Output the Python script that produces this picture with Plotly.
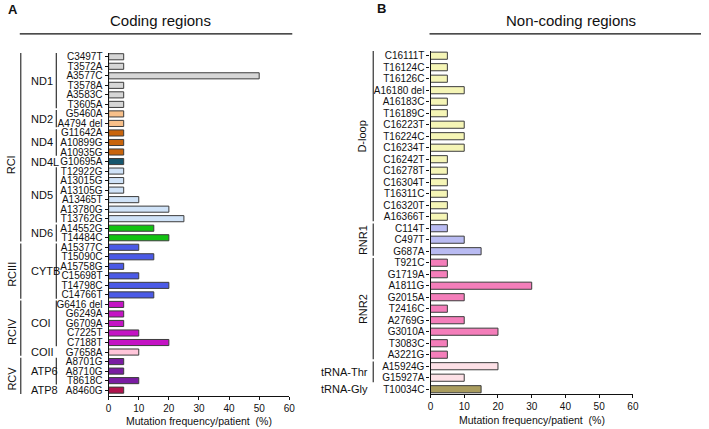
import plotly.graph_objects as go

W, H = 709, 429

# ---------------- Data: panel A (coding regions) ----------------
a_genes = ["ND1", "ND2", "ND4", "ND4L", "ND5", "ND6", "CYTB", "COI", "COII", "ATP6", "ATP8"]
a_labels = {
    "ND1": ["C3497T", "T3572A", "A3577C", "T3578A", "A3583C", "T3605A"],
    "ND2": ["G5460A", "A4794 del"],
    "ND4": ["G11642A", "A10899G", "A10935G"],
    "ND4L": ["G10695A"],
    "ND5": ["T12922G", "A13015G", "A13105G", "A13465T", "A13780G", "T13762G"],
    "ND6": ["A14552G", "T14484C"],
    "CYTB": ["A15377C", "T15090C", "A15758G", "C15698T", "T14798C", "C14766T"],
    "COI": ["G6416 del", "G6249A", "G6709A", "C7225T", "C7188T"],
    "COII": ["G7658A"],
    "ATP6": ["A8701G", "A8710G", "T8618C"],
    "ATP8": ["A8460G"],
}
a_values = {
    "ND1": [5, 5, 50, 5, 5, 5],
    "ND2": [5, 5],
    "ND4": [5, 5, 5],
    "ND4L": [5],
    "ND5": [5, 5, 5, 10, 20, 25],
    "ND6": [15, 20],
    "CYTB": [10, 15, 5, 10, 20, 15],
    "COI": [5, 5, 5, 10, 20],
    "COII": [10],
    "ATP6": [5, 5, 10],
    "ATP8": [5],
}
a_complexes = [("RCI", ["ND1", "ND2", "ND4", "ND4L", "ND5", "ND6"]),
               ("RCIII", ["CYTB"]),
               ("RCIV", ["COI", "COII"]),
               ("RCV", ["ATP6", "ATP8"])]

# ---------------- Data: panel B (non-coding regions) ----------------
b_regions = ["D-loop", "RNR1", "RNR2", "tRNA-Thr", "tRNA-Gly"]
b_labels = {
    "D-loop": ["C16111T", "T16124C", "T16126C", "A16180 del", "A16183C", "T16189C",
               "C16223T", "T16224C", "C16234T", "C16242T", "C16278T", "C16304T",
               "T16311C", "C16320T", "A16366T"],
    "RNR1": ["C114T", "C497T", "G687A"],
    "RNR2": ["T921C", "G1719A", "A1811G", "G2015A", "T2416C", "A2769G", "G3010A",
             "T3083C", "A3221G"],
    "tRNA-Thr": ["A15924G", "G15927A"],
    "tRNA-Gly": ["T10034C"],
}
b_values = {
    "D-loop": [5, 5, 5, 10, 5, 5, 10, 10, 10, 5, 5, 5, 5, 5, 5],
    "RNR1": [5, 10, 15],
    "RNR2": [5, 5, 30, 10, 5, 10, 20, 5, 5],
    "tRNA-Thr": [20, 10],
    "tRNA-Gly": [15],
}

x_ticks = [0, 10, 20, 30, 40, 50, 60]

# ---------------- Styles ----------------
colors = {
    "ND1": "#d6d6d6", "ND2": "#f8c08a", "ND4": "#c8640c", "ND4L": "#15566e",
    "ND5": "#d0e3f8", "ND6": "#12c212", "CYTB": "#4b5ae6", "COI": "#c414c4",
    "COII": "#ffc6da", "ATP6": "#7a1ca2", "ATP8": "#b0124c",
    "D-loop": "#f5f5b6", "RNR1": "#b9bbf2", "RNR2": "#f47eba",
    "tRNA-Thr": "#fde0e6", "tRNA-Gly": "#a99c5e",
}
FONT = "Liberation Sans, Arial, sans-serif"
OUT = "#3c3c3c"


def px(v):
    return v / W


def py(v):
    return 1 - v / H


fig = go.Figure()
shapes = []
annotations = []


def build_panel(groups, labels, values, xa, ya, bw):
    idx = 0
    ticktext, tickvals, spans = [], [], {}
    for g in groups:
        ys = list(range(idx, idx + len(labels[g])))
        spans[g] = (ys[0], ys[-1])
        fig.add_trace(go.Bar(
            x=values[g], y=ys, orientation="h", width=bw,
            marker=dict(color=colors[g], line=dict(color=OUT, width=1)),
            xaxis=xa, yaxis=ya, showlegend=False, hoverinfo="x+text",
            text=labels[g], textposition="none",
        ))
        tickvals += ys
        ticktext += labels[g]
        idx += len(ys)
    return tickvals, ticktext, spans, idx


tvA, ttA, spanA, nA = build_panel(a_genes, a_labels, a_values, "x", "y", 0.64)
tvB, ttB, spanB, nB = build_panel(b_regions, b_labels, b_values, "x2", "y2", 0.62)

axis_common = dict(showline=True, linecolor="#111", linewidth=1.2, ticks="outside",
                   tickcolor="#111", showgrid=False, zeroline=False)

fig.update_layout(
    width=W, height=H, margin=dict(l=0, r=0, t=0, b=0),
    plot_bgcolor="white", paper_bgcolor="white",
    xaxis=dict(domain=[px(107), px(290)], range=[0, 60], tickvals=x_ticks,
               anchor="y", ticklen=3, tickfont=dict(family=FONT, size=10, color="#111"),
               **axis_common),
    yaxis=dict(domain=[py(397), py(52)], range=[nA - 1 + 0.63, -0.42],
               tickvals=tvA, ticktext=ttA, anchor="x", ticklen=3,
               tickfont=dict(family=FONT, size=10, color="#111"), **axis_common),
    xaxis2=dict(domain=[px(433), px(638)], range=[0, 60], tickvals=x_ticks,
                anchor="y2", ticklen=3, tickfont=dict(family=FONT, size=10, color="#111"),
                **axis_common),
    yaxis2=dict(domain=[py(395), py(50)], range=[nB - 1 + 0.43, -0.43],
                tickvals=tvB, ticktext=ttB, anchor="x2", ticklen=3,
                tickfont=dict(family=FONT, size=10, color="#111"), **axis_common),
)

LINE = dict(color="#333", width=1.2)

for g in a_genes:
    s, e = spanA[g]
    if e > s:
        shapes.append(dict(type="line", xref="paper", yref="y",
                           x0=px(54), x1=px(54), y0=s - 0.4, y1=e + 0.4, line=LINE))
    annotations.append(dict(text=g, xref="paper", yref="y", x=px(26), y=(s + e) / 2,
                            xanchor="left", yanchor="middle", showarrow=False,
                            font=dict(family=FONT, size=11, color="#111")))
for name, gs in a_complexes:
    s = spanA[gs[0]][0]
    e = spanA[gs[-1]][1]
    shapes.append(dict(type="line", xref="paper", yref="y",
                       x0=px(18), x1=px(18), y0=s - 0.4, y1=e + 0.4, line=LINE))
    ymid = (s + e) / 2 + (1.8 if name == "RCI" else 0.3)
    annotations.append(dict(text=name, xref="paper", yref="y", x=px(9), y=ymid,
                            textangle=-90, xanchor="center", yanchor="middle",
                            showarrow=False, font=dict(family=FONT, size=11, color="#111")))

for g in b_regions:
    s, e = spanB[g]
    if e > s:
        shapes.append(dict(type="line", xref="paper", yref="y2",
                           x0=px(375), x1=px(375), y0=s - 0.4, y1=e + 0.4, line=LINE))
    if g.startswith("tRNA"):
        annotations.append(dict(text=g, xref="paper", yref="y2", x=px(372), y=(s + e) / 2,
                                xanchor="right", yanchor="middle", showarrow=False,
                                font=dict(family=FONT, size=11, color="#111")))
    else:
        annotations.append(dict(text=g, xref="paper", yref="y2", x=px(364), y=(s + e) / 2,
                                textangle=-90, xanchor="center", yanchor="middle",
                                showarrow=False, font=dict(family=FONT, size=11, color="#111")))

annotations += [
    dict(text="<b>A</b>", xref="paper", yref="paper", x=px(3), y=py(9), xanchor="left",
         yanchor="middle", showarrow=False, font=dict(family=FONT, size=13, color="#111")),
    dict(text="<b>B</b>", xref="paper", yref="paper", x=px(377), y=py(8), xanchor="left",
         yanchor="middle", showarrow=False, font=dict(family=FONT, size=13, color="#111")),
    dict(text="Coding regions", xref="paper", yref="paper", x=px(160), y=py(20),
         xanchor="center", yanchor="middle", showarrow=False,
         font=dict(family=FONT, size=15, color="#111")),
    dict(text="Non-coding regions", xref="paper", yref="paper", x=px(575), y=py(20),
         xanchor="center", yanchor="middle", showarrow=False,
         font=dict(family=FONT, size=15, color="#111")),
    dict(text="Mutation frequency/patient  (%)", xref="x domain", yref="paper", x=0.5,
         y=py(422), xanchor="center", yanchor="middle", showarrow=False,
         font=dict(family=FONT, size=10.5, color="#111")),
    dict(text="Mutation frequency/patient  (%)", xref="x2 domain", yref="paper", x=0.5,
         y=py(421), xanchor="center", yanchor="middle", showarrow=False,
         font=dict(family=FONT, size=10.5, color="#111")),
]
shapes += [
    dict(type="line", xref="paper", yref="paper", x0=px(17), x1=px(293), y0=py(33), y1=py(33),
         line=dict(color="#111", width=1.3)),
    dict(type="line", xref="paper", yref="paper", x0=px(432), x1=px(707), y0=py(33), y1=py(33),
         line=dict(color="#111", width=1.3)),
]

fig.update_layout(shapes=shapes, annotations=annotations)
fig.write_html("out.html", config={"displayModeBar": False},
               post_script="document.body.style.margin='0';document.body.style.overflow='hidden';")
